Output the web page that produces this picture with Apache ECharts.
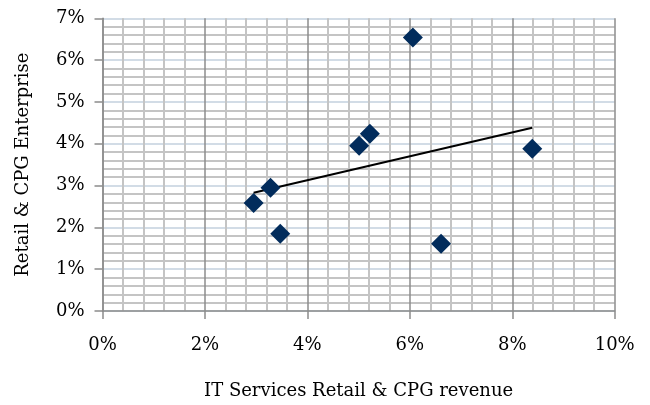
<!DOCTYPE html>
<html><head><meta charset="utf-8">
<script src="https://cdn.jsdelivr.net/npm/echarts@6/dist/echarts.min.js"></script>
<style>html,body{margin:0;padding:0;background:#fff}#c{width:650px;height:405px}</style>
</head><body><div id="c"></div>
<script>
// Data (percent values)
var itServicesRevenue = [2.95, 3.28, 3.47, 5.01, 5.22, 6.06, 8.39, 6.61];
var enterpriseShare   = [2.58, 2.95, 1.85, 3.95, 4.24, 6.54, 3.88, 1.61];
var xTicks = [0, 2, 4, 6, 8, 10];
var yTicks = [0, 1, 2, 3, 4, 5, 6, 7];
var xTitle = 'IT Services Retail & CPG revenue';
var yTitle = 'Retail & CPG Enterprise';

var points = itServicesRevenue.map(function(x, i){ return [x, enterpriseShare[i]]; });
// linear trendline (least squares)
var n = points.length, mx = 0, my = 0;
points.forEach(function(p){ mx += p[0]; my += p[1]; });
mx /= n; my /= n;
var sxy = 0, sxx = 0;
points.forEach(function(p){ sxy += (p[0]-mx)*(p[1]-my); sxx += (p[0]-mx)*(p[0]-mx); });
var slope = sxy / sxx, icpt = my - slope * mx;
var xMin = Math.min.apply(null, itServicesRevenue), xMax = Math.max.apply(null, itServicesRevenue);
var trend = [[xMin, icpt + slope * xMin], [xMax, icpt + slope * xMax]];

var font = 'DejaVu Serif';
var chart = echarts.init(document.getElementById('c'), null, {renderer: 'canvas'});
chart.setOption({
  animation: false,
  backgroundColor: '#fff',
  grid: {left: 102.5, right: 35.3, top: 18.3, bottom: 90.7, containLabel: false},
  xAxis: {
    type: 'value', min: xTicks[0], max: xTicks[xTicks.length-1], interval: 2,
    name: xTitle, nameLocation: 'middle', nameGap: 71,
    nameTextStyle: {fontFamily: font, fontSize: 18, color: '#000'},
    axisLine: {show: true, lineStyle: {color: '#8c8c8c', width: 1.5}},
    axisTick: {show: true, length: 8, lineStyle: {color: '#8c8c8c', width: 1.5}},
    axisLabel: {fontFamily: font, fontSize: 18, color: '#000', margin: 25,
      formatter: function(v){ return v + '%'; }},
    splitLine: {show: true, lineStyle: {color: '#8c8c8c', width: 1.5}},
    minorTick: {show: false, splitNumber: 5},
    minorSplitLine: {show: true, lineStyle: {color: '#c4c4c4', width: 2}}
  },
  yAxis: {
    type: 'value', min: yTicks[0], max: yTicks[yTicks.length-1], interval: 1,
    name: yTitle, nameLocation: 'middle', nameGap: 70, nameRotate: 90,
    nameTextStyle: {fontFamily: font, fontSize: 18, color: '#000'},
    axisLine: {show: true, lineStyle: {color: '#8c8c8c', width: 1.5}},
    axisTick: {show: true, length: 8, lineStyle: {color: '#8c8c8c', width: 1.5}},
    axisLabel: {fontFamily: font, fontSize: 18, color: '#000', margin: 18,
      formatter: function(v){ return v + '%'; }},
    splitLine: {show: true, lineStyle: {color: '#c3d1de', width: 1.5}},
    minorTick: {show: false, splitNumber: 5},
    minorSplitLine: {show: true, lineStyle: {color: '#c4c4c4', width: 2}}
  },
  series: [
    {type: 'line', data: trend, symbol: 'none', silent: true,
      lineStyle: {color: '#000', width: 2}, z: 3},
    {type: 'scatter', data: points, symbol: 'diamond', symbolSize: [20, 20],
      itemStyle: {color: '#022c5c', opacity: 1}, z: 4}
  ]
});
</script></body></html>
